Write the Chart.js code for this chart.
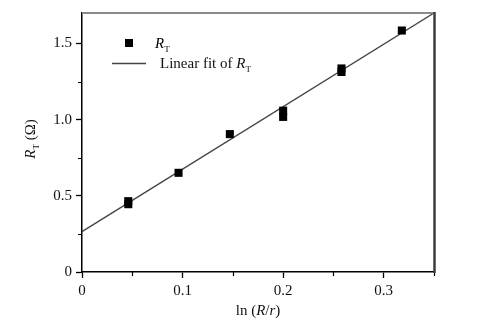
<!DOCTYPE html>
<html>
<head>
<meta charset="utf-8">
<script src="https://cdn.jsdelivr.net/npm/chart.js@4/dist/chart.umd.min.js"></script>
<style>
  html, body { margin: 0; padding: 0; background: #fff; }
  #wrap { width: 492px; height: 327px; position: relative; }
</style>
</head>
<body>
<div id="wrap"><canvas id="chart"></canvas></div>
<script>
/* R_T against ln(R/r): measured points plus the linear fit. */

// ---- Data ------------------------------------------------------------------
const lnRatio = [0.046, 0.046, 0.096, 0.147, 0.200, 0.200, 0.258, 0.258, 0.318];
const rT      = [0.445, 0.465, 0.651, 0.905, 1.018, 1.059, 1.313, 1.336, 1.585];

// Fit line end points (x = 0 and x = axis max)
const fitX = [0, 0.35];
const fitY = [0.265, 1.70];

const xTicks = [0, 0.1, 0.2, 0.3];
const yTicks = [0, 0.5, 1.0, 1.5];
const xMinor = [0.05, 0.15, 0.25, 0.35];
const yMinor = [0.25, 0.75, 1.25];

// ---- Style -----------------------------------------------------------------
const SERIF = "'Liberation Serif', 'Times New Roman', serif";
const FONT_PX = 15;
const PLOT = { left: 82, right: 434, top: 11, bottom: 272 };
const W = 492, H = 327;

function fmt(v) {
  return v === 0 ? "0" : v.toFixed(1);
}

// Draws "R" italic with a subscript "T" starting at x; returns end x.
function drawRT(ctx, x, y, size) {
  ctx.font = `italic ${size}px ${SERIF}`;
  ctx.fillText("R", x, y);
  x += ctx.measureText("R").width;
  ctx.font = `${Math.round(size * 0.62)}px ${SERIF}`;
  ctx.fillText("T", x, y + size * 0.28);
  return x + ctx.measureText("T").width;
}

// Minor ticks, top/right frame, axis titles and the legend.
const decorations = {
  id: "decorations",
  afterDraw(chart) {
    const { ctx, scales: { x, y } } = chart;
    const area = chart.chartArea;
    ctx.save();

    // minor ticks
    ctx.strokeStyle = "#000";
    ctx.lineWidth = 1.2;
    ctx.beginPath();
    xMinor.forEach((v) => {
      const px = Math.round(x.getPixelForValue(v)) + 0.5;
      ctx.moveTo(px, area.bottom);
      ctx.lineTo(px, area.bottom + 4);
    });
    yMinor.forEach((v) => {
      const py = Math.round(y.getPixelForValue(v)) + 0.5;
      ctx.moveTo(area.left, py);
      ctx.lineTo(area.left - 4, py);
    });
    ctx.stroke();

    // top and right frame
    ctx.strokeStyle = "#8a8a8a";
    ctx.lineWidth = 2;
    ctx.beginPath();
    ctx.moveTo(area.left, area.top);
    ctx.lineTo(area.right, area.top);
    ctx.stroke();
    ctx.strokeStyle = "#3c3c3c";
    ctx.lineWidth = 2.5;
    ctx.beginPath();
    ctx.moveTo(area.right + 0.5, area.top - 1);
    ctx.lineTo(area.right + 0.5, area.bottom + 1);
    ctx.stroke();

    ctx.fillStyle = "#111";
    ctx.textBaseline = "alphabetic";
    ctx.textAlign = "left";

    // x title: ln (R/r)
    {
      const parts = [
        ["ln (", ""], ["R", "italic "], ["/", ""], ["r", "italic "], [")", ""],
      ];
      let total = 0;
      parts.forEach(([t, s]) => {
        ctx.font = `${s}${FONT_PX}px ${SERIF}`;
        total += ctx.measureText(t).width;
      });
      let cx = (area.left + area.right) / 2 - total / 2;
      parts.forEach(([t, s]) => {
        ctx.font = `${s}${FONT_PX}px ${SERIF}`;
        ctx.fillText(t, cx, 315);
        cx += ctx.measureText(t).width;
      });
    }

    // y title: R_T (Ω), rotated
    ctx.save();
    ctx.translate(35, 139);
    ctx.rotate(-Math.PI / 2);
    ctx.font = `italic ${FONT_PX}px ${SERIF}`;
    const wR = ctx.measureText("R").width;
    ctx.font = `${Math.round(FONT_PX * 0.62)}px ${SERIF}`;
    const wT = ctx.measureText("T").width;
    ctx.font = `${FONT_PX}px ${SERIF}`;
    const wRest = ctx.measureText(" (Ω)").width;
    const x0 = -(wR + wT + wRest) / 2;
    const xe = drawRT(ctx, x0, 0, FONT_PX);
    ctx.font = `${FONT_PX}px ${SERIF}`;
    ctx.fillText(" (Ω)", xe, 0);
    ctx.restore();

    // legend
    ctx.fillStyle = "#000";
    ctx.fillRect(125, 39, 8, 8);
    drawRT(ctx, 155, 48, FONT_PX);
    ctx.strokeStyle = "#444";
    ctx.lineWidth = 1.3;
    ctx.beginPath();
    ctx.moveTo(112, 63.5);
    ctx.lineTo(146, 63.5);
    ctx.stroke();
    ctx.fillStyle = "#111";
    ctx.font = `${FONT_PX}px ${SERIF}`;
    ctx.fillText("Linear fit of ", 160, 68);
    drawRT(ctx, 160 + ctx.measureText("Linear fit of ").width, 68, FONT_PX);

    ctx.restore();
  },
};

// ---- Chart -----------------------------------------------------------------
const ctx = document.getElementById("chart").getContext("2d");

new Chart(ctx, {
  type: "scatter",
  data: {
    datasets: [
      {
        label: "Linear fit",
        type: "line",
        data: fitX.map((v, i) => ({ x: v, y: fitY[i] })),
        borderColor: "#444",
        borderWidth: 1.3,
        pointRadius: 0,
        fill: false,
        order: 2,
      },
      {
        label: "RT",
        data: lnRatio.map((v, i) => ({ x: v, y: rT[i] })),
        pointStyle: "rect",
        pointRadius: 5.7,
        backgroundColor: "#000",
        borderColor: "#000",
        borderWidth: 0,
        order: 1,
      },
    ],
  },
  options: {
    responsive: true,
    maintainAspectRatio: false,
    animation: false,
    layout: {
      padding: { left: 0, right: W - PLOT.right, top: PLOT.top, bottom: 0 },
    },
    plugins: {
      legend: { display: false },
      tooltip: { enabled: false },
    },
    scales: {
      x: {
        type: "linear",
        min: 0,
        max: 0.35,
        afterBuildTicks: (s) => { s.ticks = xTicks.map((v) => ({ value: v })); },
        afterFit: (s) => { s.height = H - PLOT.bottom; },
        border: { display: true, color: "#000", width: 1.5 },
        grid: { drawOnChartArea: false, drawTicks: true, tickLength: 6, color: "#000", tickWidth: 1.3 },
        ticks: {
          color: "#111",
          padding: 4,
          font: { family: SERIF, size: FONT_PX },
          maxRotation: 0,
          callback: (v) => fmt(v),
        },
      },
      y: {
        type: "linear",
        min: 0,
        max: 1.7,
        afterBuildTicks: (s) => { s.ticks = yTicks.map((v) => ({ value: v })); },
        afterFit: (s) => { s.width = PLOT.left; },
        border: { display: true, color: "#000", width: 1.5 },
        grid: { drawOnChartArea: false, drawTicks: true, tickLength: 6, color: "#000", tickWidth: 1.3 },
        ticks: {
          color: "#111",
          padding: 4,
          font: { family: SERIF, size: FONT_PX },
          callback: (v) => fmt(v),
        },
      },
    },
  },
  plugins: [decorations],
});
</script>
</body>
</html>
